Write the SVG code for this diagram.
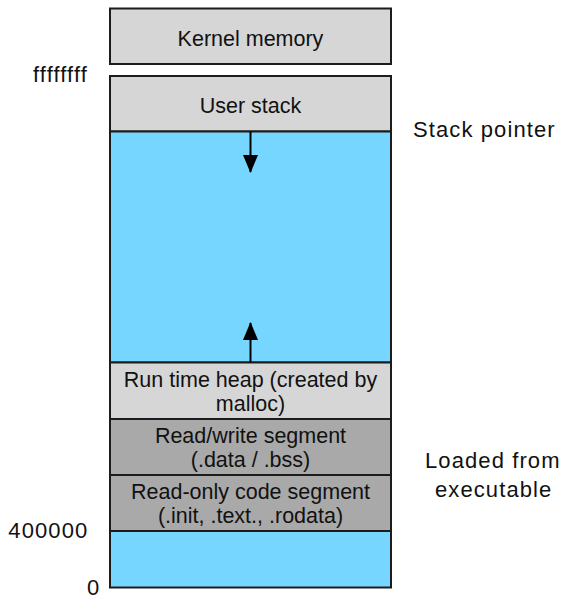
<svg xmlns="http://www.w3.org/2000/svg" width="562" height="599" viewBox="0 0 562 599">
  <style>
    .box { stroke: #1c1c1c; stroke-width: 2; }
    .light { fill: #d6d6d6; }
    .dark { fill: #a9a9a9; }
    .blue { fill: #76d6ff; }
    .t { font-family: "Liberation Sans", Arial, Helvetica, sans-serif; font-size: 21.5px; fill: #111; text-anchor: middle; }
    .side { font-family: "Liberation Sans", Arial, Helvetica, sans-serif; font-size: 22px; fill: #111; letter-spacing: 1.1px; }
    .conn { stroke: #000; stroke-width: 2; fill: none; }
  </style>
  <defs>
    <marker id="arrow" viewBox="0 0 18 15" refX="17" refY="7.5" markerWidth="18" markerHeight="15" markerUnits="userSpaceOnUse" orient="auto">
      <path d="M0,0 L18,7.5 L0,15 z" fill="#000"/>
    </marker>
  </defs>

  <g id="kernel-memory">
    <rect class="box light" x="110" y="8.5" width="281" height="55.5"/>
    <text class="t" x="250.5" y="46">Kernel memory</text>
  </g>
  <g id="user-stack">
    <rect class="box light" x="110" y="76" width="281" height="55.5"/>
    <text class="t" x="250.5" y="112.5">User stack</text>
  </g>
  <g id="free-space">
    <rect class="box blue" x="110" y="131.5" width="281" height="231"/>
  </g>
  <g id="heap">
    <rect class="box light" x="110" y="362.5" width="281" height="56.5"/>
    <text class="t" x="250.5" y="387.3">Run time heap (created by</text>
    <text class="t" x="250.5" y="410.7">malloc)</text>
  </g>
  <g id="rw-segment">
    <rect class="box dark" x="110" y="419" width="281" height="56"/>
    <text class="t" x="250.5" y="443.3">Read/write segment</text>
    <text class="t" x="250.5" y="466.7">(.data / .bss)</text>
  </g>
  <g id="ro-segment">
    <rect class="box dark" x="110" y="475" width="281" height="56"/>
    <text class="t" x="250.5" y="499">Read-only code segment</text>
    <text class="t" x="250.5" y="522.7">(.init, .text., .rodata)</text>
  </g>
  <g id="low-memory">
    <rect class="box blue" x="110" y="531" width="281" height="56.5"/>
  </g>

  <g id="connectors">
    <line class="conn" x1="250.5" y1="131.5" x2="250.5" y2="172" marker-end="url(#arrow)"/>
    <line class="conn" x1="250.5" y1="362.5" x2="250.5" y2="323" marker-end="url(#arrow)"/>
  </g>

  <g id="labels">
    <text class="side" x="33" y="82">ffffffff</text>
    <text class="side" x="8.3" y="538">400000</text>
    <text class="side" x="87" y="595">0</text>
    <text class="side" x="413" y="137">Stack pointer</text>
    <text class="side" x="425" y="468">Loaded from</text>
    <text class="side" x="435" y="497">executable</text>
  </g>
</svg>
